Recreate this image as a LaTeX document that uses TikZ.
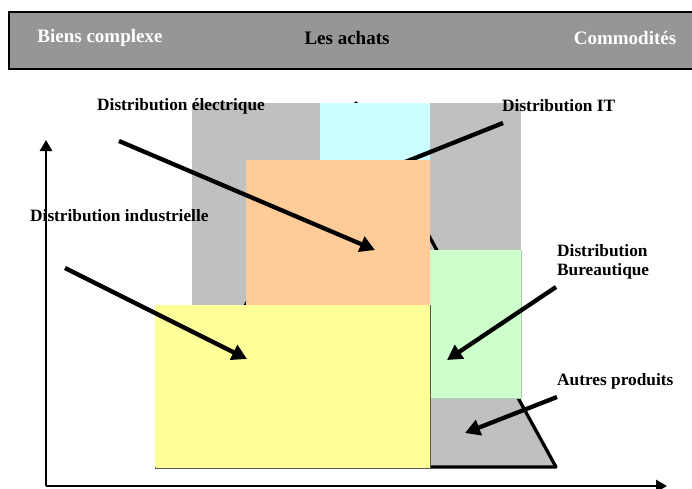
\documentclass[tikz,border=0pt]{standalone}
\usepackage{fontspec}
\setmainfont{Liberation Serif}
\usetikzlibrary{arrows.meta}

\definecolor{bandgray}{HTML}{969696}
\definecolor{boxgray}{HTML}{C0C0C0}
\definecolor{itcyan}{HTML}{CCFFFF}
\definecolor{elecorange}{HTML}{FFCC99}
\definecolor{burgreen}{HTML}{CCFFCC}
\definecolor{indyellow}{HTML}{FFFF99}

\tikzset{
    lbl/.style={font=\bfseries\fontsize{17.3}{19}\selectfont, inner sep=0pt},
    head/.style={font=\bfseries\fontsize{19}{21}\selectfont, inner sep=0pt},
    pointer/.style={line width=4.3pt, -{Triangle[length=15pt,width=16pt]}},
    axis/.style={line width=2.8pt, -{Triangle[length=11pt,width=12pt]}}
}

\begin{document}
\begin{tikzpicture}[x=1pt, y=-1pt]

            \useasboundingbox (0,0) rectangle (692,488);

            % bandeau du haut
            \draw [fill=bandgray, line width=1.3pt] (9,12) rectangle (700,69);
            \node (complexe) [head, white] at (100,38) {Biens complexe};
            \node (achats) [head] at (347,38) {Les achats};
            \node (commodites) [head, white] at (625,38) {Commodités};

            % fond et pyramide
            \fill [boxgray] (192,103) rectangle (521,398);
            \draw [fill=boxgray, line width=3.3pt, line join=round] (157,467) -- (356,103) -- (556,467) -- cycle;

            % les blocs
            \fill [itcyan] (320,103) rectangle (430,160);

            \coordinate (itstart) at (503,123);
            \coordinate (itend) at (370,176);
            \draw [pointer] (itstart) -- (itend);

            \fill [elecorange] (246,160) rectangle (430,305);
            \draw [burgreen!60!gray, fill=burgreen] (430,250) rectangle (521,398);
            \fill [burgreen] (430,250) rectangle (521,397);
            \draw [gray!70!black, fill=indyellow] (155,305) rectangle (430,468);
            \fill [indyellow] (155,305) rectangle (430,467);

            % axes
            \coordinate (origin) at (46,486);
            \coordinate (ytop) at (46,140);
            \coordinate (xend) at (667,486);
            \draw [axis] (origin) -- (ytop);
            \draw [axis] (origin) -- (xend);

            % etiquettes
            \node (elec) [lbl, anchor=west] at (97,106) {Distribution électrique};
            \node (it) [lbl, anchor=west] at (502,106) {Distribution IT};
            \node (indus) [lbl, anchor=west] at (30,216) {Distribution industrielle};
            \node (bureau) [lbl, anchor=west, align=left] at (557,262) {Distribution\\Bureautique};
            \node (autres) [lbl, anchor=west] at (557,381) {Autres produits};

            % fleches
            \coordinate (elecstart) at (119,141);
            \coordinate (elecend) at (375,250);
            \coordinate (indstart) at (65,268);
            \coordinate (indend) at (247,359);
            \coordinate (burstart) at (556,287);
            \coordinate (burend) at (447,360);
            \coordinate (autstart) at (557,397);
            \coordinate (autend) at (465,433);

            \draw [pointer] (elecstart) -- (elecend);
            \draw [pointer] (indstart) -- (indend);
            \draw [pointer] (burstart) -- (burend);
            \draw [pointer] (autstart) -- (autend);

        \end{tikzpicture}
\end{document}
